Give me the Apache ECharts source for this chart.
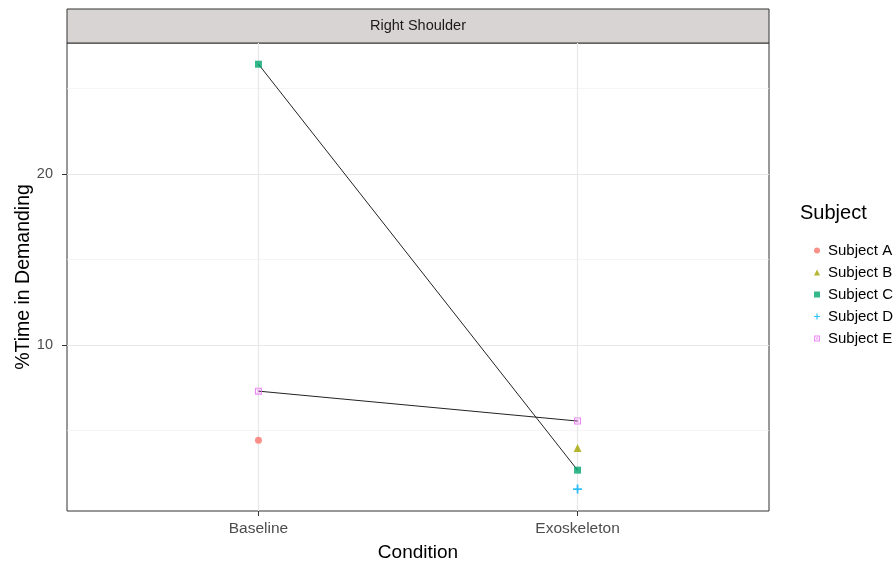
<!DOCTYPE html>
<html>
<head>
<meta charset="utf-8">
<script src="https://cdn.jsdelivr.net/npm/echarts@6/dist/echarts.min.js"></script>
<style>html,body{margin:0;padding:0;background:#fff}#c{width:894px;height:568px}</style>
</head>
<body>
<div id="c"></div>
<script>
const categories = ['Baseline', 'Exoskeleton'];
const subjects = ['Subject A', 'Subject B', 'Subject C', 'Subject D', 'Subject E'];
// values per subject: [Baseline, Exoskeleton]; null = missing
const subjectA = [4.44, null];
const subjectB = [null, 3.98];
const subjectC = [26.43, 2.69];
const subjectD = [null, 1.58];
const subjectE = [7.31, 5.56];
const yTicks = [10, 20];
const yMinorTicks = [5, 15, 25];
const xTicks = [1, 2];

const colors = ['#F8766D', '#A3A500', '#00A56E', '#00B0F6', '#E76BF3'];
const symbols = [
  'circle',
  'triangle',
  'rect',
  'path://M4,0 L6,0 L6,4 L10,4 L10,6 L6,6 L6,10 L4,10 L4,6 L0,6 L0,4 L4,4 Z',
  'path://M0,0 L10,0 L10,10 L0,10 Z M1.5,1.5 L1.5,8.5 L8.5,8.5 L8.5,1.5 Z M2.5,2 L5,4.3 L7.5,2 L8,2.5 L5.7,5 L8,7.5 L7.5,8 L5,5.7 L2.5,8 L2,7.5 L4.3,5 L2,2.5 Z'
];
const allVals = [subjectA, subjectB, subjectC, subjectD, subjectE];
const toPts = v => v.map((y, i) => y == null ? null : [i + 1, y]).filter(p => p);

const font = 'Liberation Sans, Arial, sans-serif';
const chart = echarts.init(document.getElementById('c'));

const series = [];
series.push({
  type: 'line', data: [], silent: true, z: 0,
  markLine: {
    silent: true, symbol: 'none', label: {show: false}, animation: false, z: 0,
    data: [
      ...yMinorTicks.map(v => ({yAxis: v, lineStyle: {color: '#f0f0f0', width: 0.7, type: 'solid'}})),
      ...yTicks.map(v => ({yAxis: v, lineStyle: {color: '#e8e8e8', width: 1.2, type: 'solid'}})),
      ...xTicks.map(v => ({xAxis: v, lineStyle: {color: '#e8e8e8', width: 1.2, type: 'solid'}}))
    ]
  }
});
allVals.forEach((v, i) => {
  const pts = toPts(v);
  if (pts.length > 1) {
    series.push({
      type: 'line', data: pts, symbol: 'none', silent: true, z: 6,
      lineStyle: {color: '#222', width: 1}
    });
  }
});
allVals.forEach((v, i) => {
  series.push({
    name: subjects[i], type: 'scatter', data: toPts(v), z: 10,
    symbol: symbols[i], symbolSize: i === 3 ? 9 : (i === 1 ? 8 : 7),
    itemStyle: {color: colors[i]}
  });
});

chart.setOption({
  animation: false,
  textStyle: {fontFamily: font},
  grid: {left: 67, top: 43, width: 702, height: 468, show: true, borderColor: '#333', borderWidth: 1, backgroundColor: 'transparent', containLabel: false, outerBoundsMode: 'none'},
  xAxis: {
    type: 'value', min: 0.4, max: 2.6,
    splitLine: {show: false},
    axisLine: {show: false},
    axisTick: {show: true, customValues: xTicks, length: 5, lineStyle: {color: '#333', width: 1}},
    axisLabel: {customValues: xTicks, formatter: v => categories[Math.round(v) - 1] || '', color: '#4d4d4d', fontSize: 15.5, margin: 10, fontFamily: font},
    name: 'Condition', nameLocation: 'middle', nameGap: 32, nameMoveOverlap: false,
    nameTextStyle: {fontSize: 19, color: '#000', fontFamily: font}
  },
  yAxis: {
    type: 'value', min: 0.3, max: 27.67,
    splitLine: {show: false},
    axisLine: {show: false},
    axisTick: {show: true, customValues: yTicks, length: 5, lineStyle: {color: '#333', width: 1}},
    axisLabel: {customValues: yTicks, color: '#4d4d4d', fontSize: 14.5, margin: 14, fontFamily: font},
    name: '%Time in Demanding', nameLocation: 'middle', nameGap: 33, nameRotate: 90, nameMoveOverlap: false,
    nameTextStyle: {fontSize: 19.5, color: '#000', fontFamily: font}
  },
  legend: {
    orient: 'vertical', left: 809, top: 238, itemGap: 7, itemWidth: 6, itemHeight: 6,
    data: subjects,
    textStyle: {fontSize: 15, color: '#000', fontFamily: font, padding: [0, 0, 0, 3]}
  },
  title: {
    text: 'Subject', left: 795, top: 198,
    textStyle: {fontSize: 20, fontWeight: 'normal', color: '#000', fontFamily: font}
  },
  graphic: [
    {type: 'rect', shape: {x: 67, y: 9, width: 702, height: 34}, style: {fill: '#d9d4d4', stroke: '#333', lineWidth: 1}},
    {type: 'text', x: 418, y: 26, style: {text: 'Right Shoulder', fill: '#1a1a1a', font: '14.5px ' + font, align: 'center', verticalAlign: 'middle'}}
  ],
  series: series
});
</script>
</body>
</html>
